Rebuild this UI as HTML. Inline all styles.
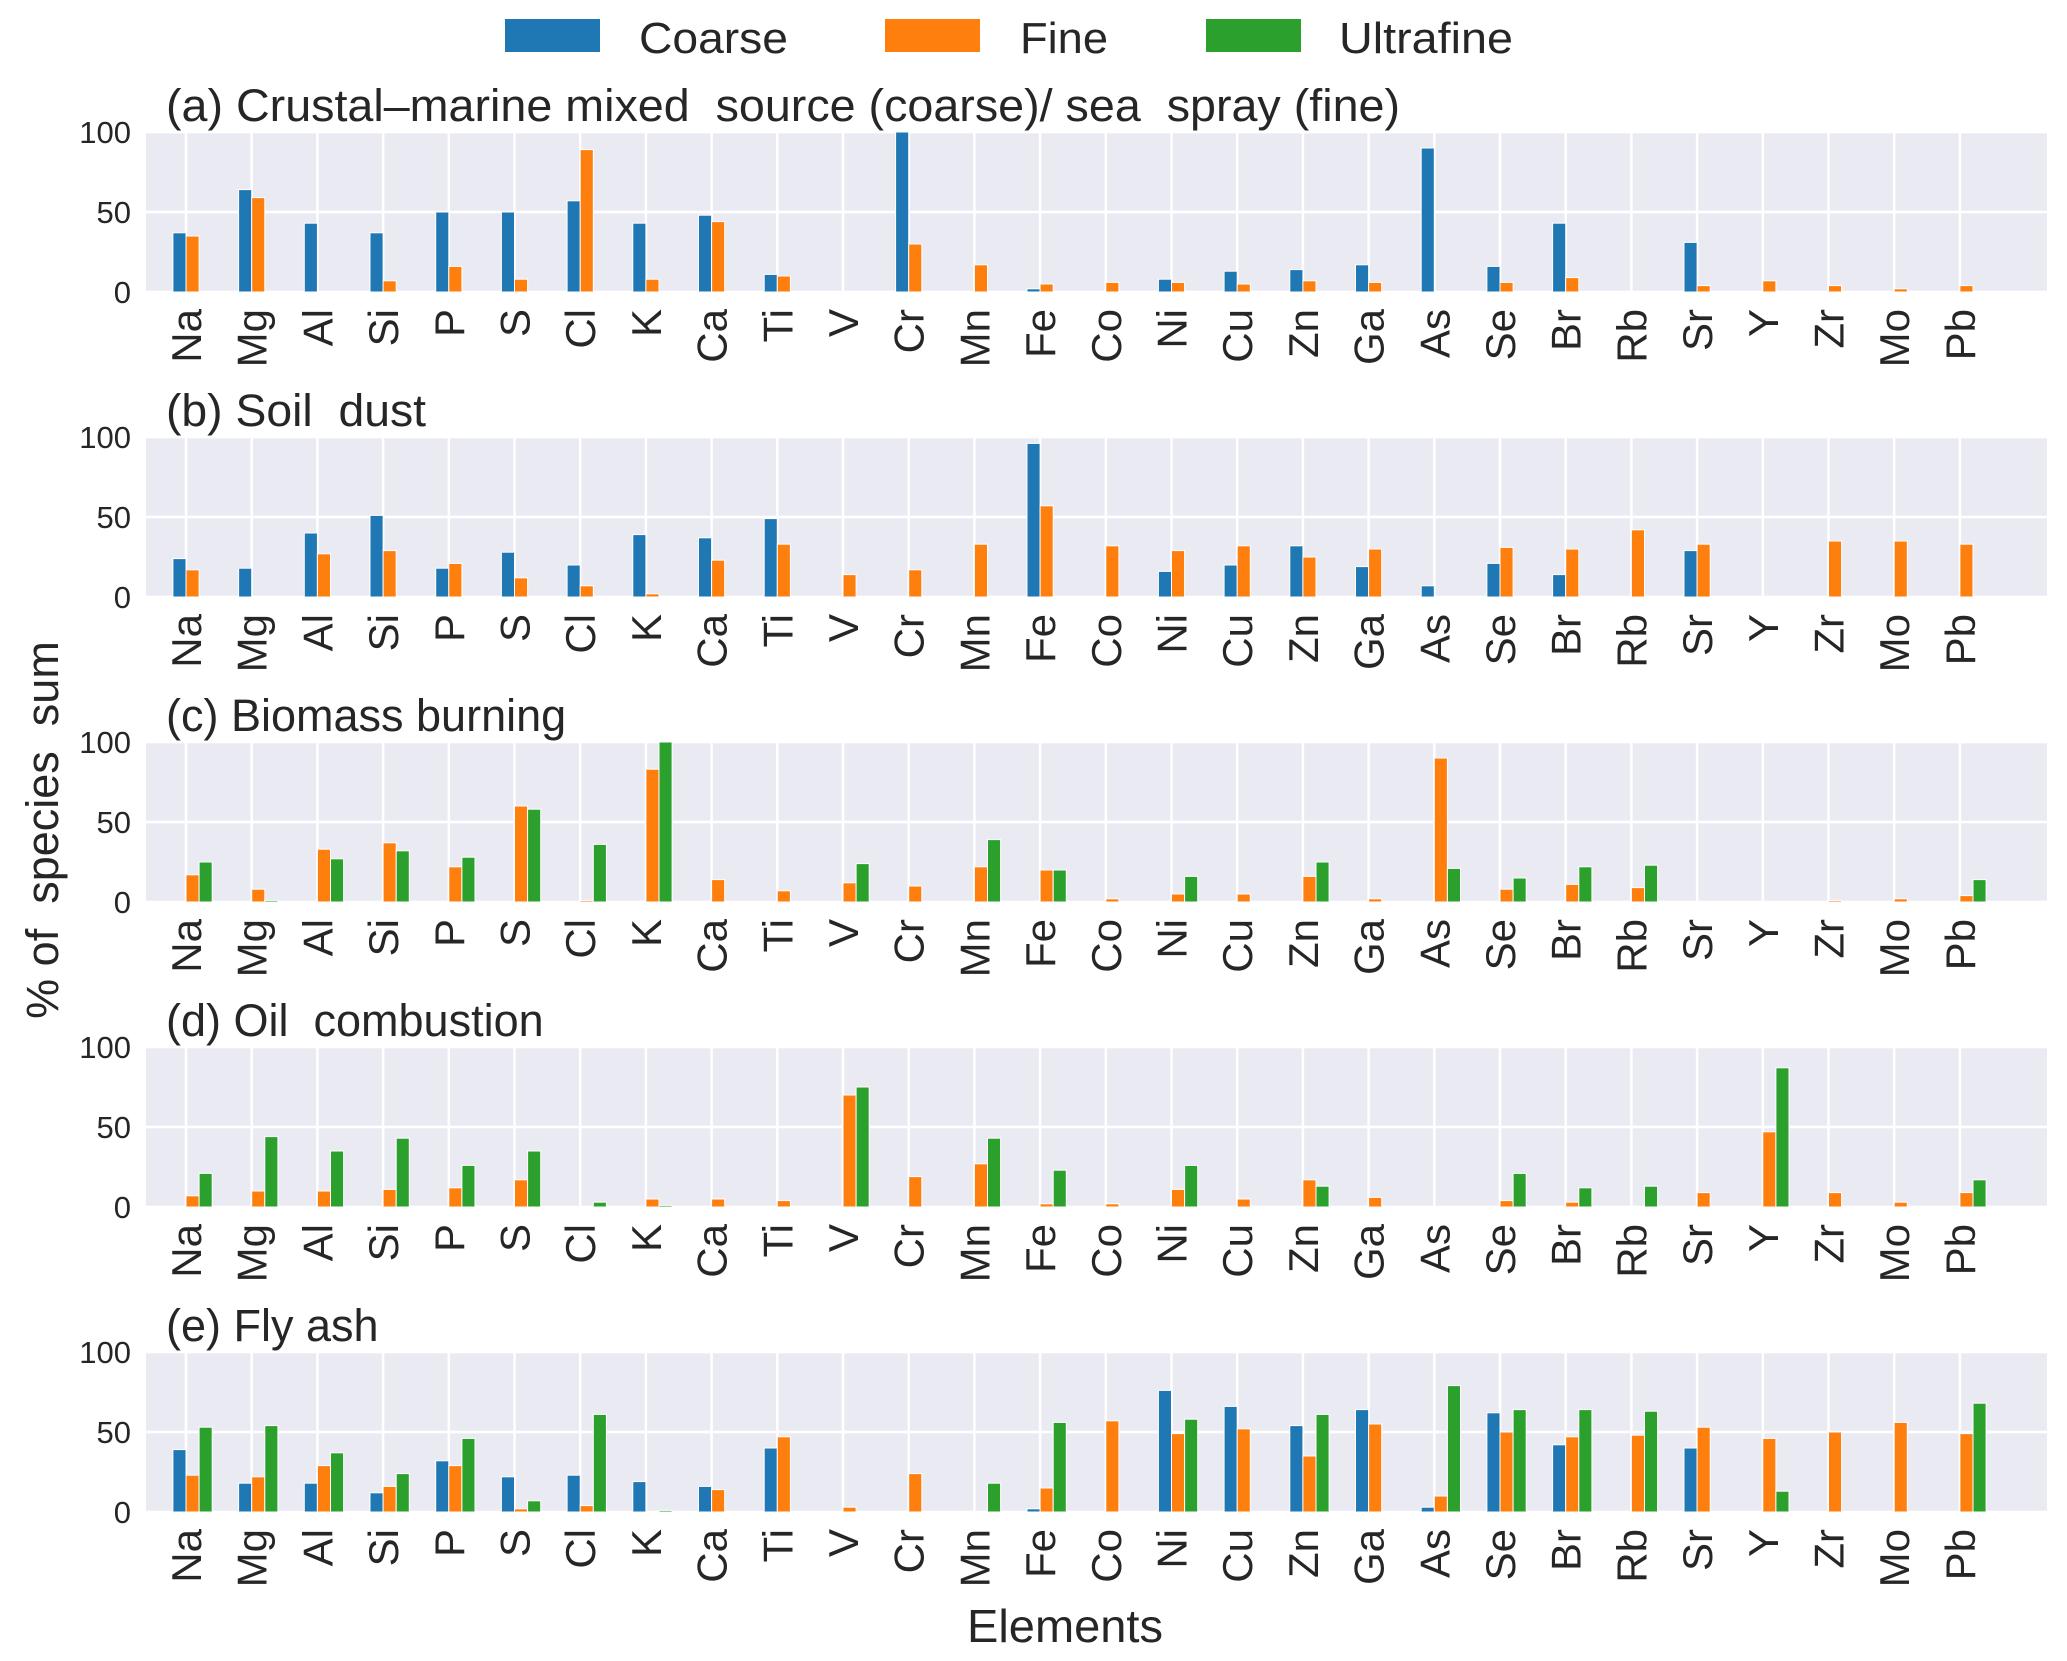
<!DOCTYPE html>
<html><head><meta charset="utf-8"><style>
html,body{margin:0;padding:0;background:#fff;}
svg{display:block;font-family:"Liberation Sans",Arial,sans-serif;}
</style></head><body>
<svg id="chart" width="2067" height="1661" viewBox="0 0 2067 1661" xmlns="http://www.w3.org/2000/svg"></svg>
<script>
const elements=["Na","Mg","Al","Si","P","S","Cl","K","Ca","Ti","V","Cr","Mn","Fe","Co","Ni","Cu","Zn","Ga","As","Se","Br","Rb","Sr","Y","Zr","Mo","Pb"];
const titles=["(a) Crustal\u2013marine mixed  source (coarse)/ sea  spray (fine)","(b) Soil  dust","(c) Biomass burning","(d) Oil  combustion","(e) Fly ash"];
const yTicks=[0,50,100];
const seriesNames=["Coarse","Fine","Ultrafine"];
const coarseA=[37,64,43,37,50,50,57,43,48,11,0,100,0,2,0,8,13,14,17,90,16,43,0,31,0,0,0,0];
const fineA=[35,59,0,7,16,8,89,8,44,10,0,30,17,5,6,6,5,7,6,0,6,9,0,4,7,4,2,4];
const ultraA=[0,0,0,0,0,0,0,0,0,0,0,0,0,0,0,0,0,0,0,0,0,0,0,0,0,0,0,0];
const coarseB=[24,18,40,51,18,28,20,39,37,49,0,0,0,96,0,16,20,32,19,7,21,14,0,29,0,0,0,0];
const fineB=[17,0,27,29,21,12,7,2,23,33,14,17,33,57,32,29,32,25,30,0,31,30,42,33,0,35,35,33];
const ultraB=[0,0,0,0,0,0,0,0,0,0,0,0,0,0,0,0,0,0,0,0,0,0,0,0,0,0,0,0];
const coarseC=[0,0,0,0,0,0,0,0,0,0,0,0,0,0,0,0,0,0,0,0,0,0,0,0,0,0,0,0];
const fineC=[17,8,33,37,22,60,1,83,14,7,12,10,22,20,2,5,5,16,2,90,8,11,9,0,0,1,2,4];
const ultraC=[25,1,27,32,28,58,36,100,0,0,24,0,39,20,0,16,0,25,0,21,15,22,23,0,0,0,0,14];
const coarseD=[0,0,0,0,0,0,0,0,0,0,0,0,0,0,0,0,0,0,0,0,0,0,0,0,0,0,0,0];
const fineD=[7,10,10,11,12,17,0,5,5,4,70,19,27,2,2,11,5,17,6,0,4,3,0,9,47,9,3,9];
const ultraD=[21,44,35,43,26,35,3,1,0,0,75,0,43,23,0,26,0,13,0,0,21,12,13,0,87,0,0,17];
const coarseE=[39,18,18,12,32,22,23,19,16,40,0,0,0,2,0,76,66,54,64,3,62,42,0,40,0,0,0,0];
const fineE=[23,22,29,16,29,2,4,0,14,47,3,24,0,15,57,49,52,35,55,10,50,47,48,53,46,50,56,49];
const ultraE=[53,54,37,24,46,7,61,1,0,0,0,0,18,56,0,58,0,61,0,79,64,64,63,0,13,0,0,68];
const panels=[[coarseA,fineA,ultraA],[coarseB,fineB,ultraB],[coarseC,fineC,ultraC],[coarseD,fineD,ultraD],[coarseE,fineE,ultraE]];
const colors=["#1f77b4","#ff7f0e","#2ca02c"];

const NS="http://www.w3.org/2000/svg";
const svg=document.getElementById("chart");
function mk(tag,attrs,parent){const e=document.createElementNS(NS,tag);for(const k in attrs)e.setAttribute(k,attrs[k]);(parent||svg).appendChild(e);return e;}
const L=146,R=2047,H=160,x0=186,step=65.7,bw=13.1;
const tops=[132,437,742,1047,1352];
function xScale(i){return x0+i*step;}
function yScale(top,v){return top+H-(v/100)*H;}

// legend
const lg=mk("g",{});


const legX=[505,885,1206];
const legT=[639,1020,1339];
const legW=[149,88,174];
seriesNames.forEach((n,k)=>{
  const r=mk("rect",{x:legX[k],y:19,width:95,height:33,fill:colors[k]},lg);
  
  
  const t=mk("text",{x:legT[k],y:53,"font-size":44,fill:"#262626",textLength:legW[k],lengthAdjust:"spacingAndGlyphs"},lg);
  t.textContent=n;
  
  
});

const titleW=[1234,260,null,null,null];
panels.forEach((ser,p)=>{
  const top=tops[p];
  const g=mk("g",{});
  
  
  const bg=mk("rect",{x:L,y:top,width:R-L,height:H,fill:"#eaeaf2"},g);
  
  
  elements.forEach((el,i)=>{
    const l=mk("line",{x1:xScale(i),x2:xScale(i),y1:top,y2:top+H,stroke:"#fff","stroke-width":2.5},g);
    
    
  });
  yTicks.forEach(v=>{
    const y=yScale(top,v);
    const l=mk("line",{x1:L,x2:R,y1:y,y2:y,stroke:"#fff","stroke-width":2.5},g);
    
    
    const t=mk("text",{x:131,y:y+11,"font-size":31,"text-anchor":"end",fill:"#262626"},g);
    t.textContent=v;
    
    
  });
  ser.forEach((vals,k)=>{
    vals.forEach((v,i)=>{
      if(v<=0)return;
      const bx=xScale(i)+(k-1)*bw;
      const y=yScale(top,v);
      const b=mk("rect",{x:bx,y:y,width:bw,height:top+H-y,fill:colors[k],stroke:"#fff","stroke-width":1},g);
      
      
    });
  });
  elements.forEach((el,i)=>{
    const x=xScale(i),y=top+H+17;
    const t=mk("text",{x:x,y:y,"font-size":42,"text-anchor":"end",fill:"#262626",transform:`rotate(-90 ${x} ${y}) translate(0 15)`},g);
    t.textContent=el;
    
    
  });
  const tt=mk("text",{x:166,y:top-11,"font-size":45,fill:"#262626","xml:space":"preserve",style:"white-space:pre"},g);
  tt.textContent=titles[p];
  if(titleW[p]){tt.setAttribute("textLength",titleW[p]);tt.setAttribute("lengthAdjust","spacingAndGlyphs");}
  
  
});

const yl=mk("text",{x:43,y:830,"font-size":45,"text-anchor":"middle",fill:"#262626",transform:"rotate(-90 43 830) translate(0 15)","xml:space":"preserve",style:"white-space:pre"});
yl.textContent="% of  species  sum";


const xl=mk("text",{x:1065,y:1642,"font-size":46,"text-anchor":"middle",fill:"#262626",textLength:196,lengthAdjust:"spacingAndGlyphs"});
xl.textContent="Elements";


</script>
</body></html>
